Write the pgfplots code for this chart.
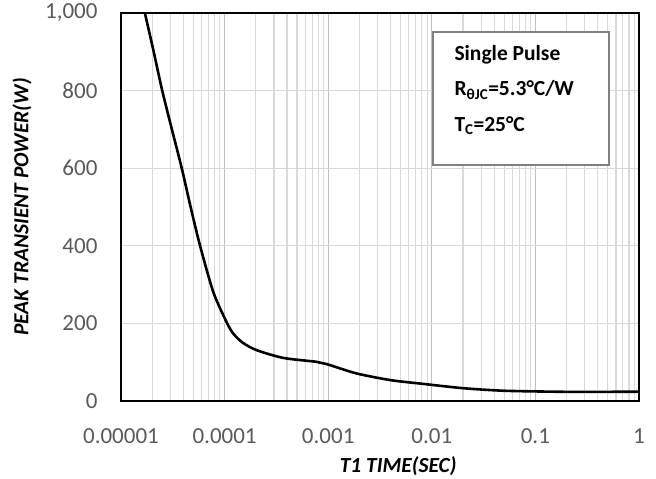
\documentclass[border=0pt]{standalone}
\usepackage{pgfplots}
\pgfplotsset{compat=1.18}
\usepackage{fontspec}
\setmainfont{Carlito}
\definecolor{ticklab}{HTML}{595959}
\definecolor{gridmaj}{HTML}{BFBFBF}
\definecolor{gridmin}{HTML}{D9D9D9}
\begin{document}
\begin{tikzpicture}
\useasboundingbox (-121bp,-78bp) rectangle (535bp,401bp);
\begin{axis}[
  anchor=south west, at={(0,0)},
  scale only axis, width=518bp, height=388bp,
  xmode=log, xmin=1e-5, xmax=1, ymin=0, ymax=1000,
  log basis x=10,
  xtick={1e-5,1e-4,1e-3,1e-2,1e-1,1},
  minor xtick={2e-5,3e-5,4e-5,5e-5,6e-5,7e-5,8e-5,9e-5,
               2e-4,3e-4,4e-4,5e-4,6e-4,7e-4,8e-4,9e-4,
               2e-3,3e-3,4e-3,5e-3,6e-3,7e-3,8e-3,9e-3,
               2e-2,3e-2,4e-2,5e-2,6e-2,7e-2,8e-2,9e-2,
               2e-1,3e-1,4e-1,5e-1,6e-1,7e-1,8e-1,9e-1},
  xticklabels={0.00001,0.0001,0.001,0.01,0.1,1},
  ytick={0,200,400,600,800,1000},
  /pgf/number format/1000 sep={,},
  /pgf/number format/assume math mode=true,
  major tick length=0pt, minor tick length=0pt,
  xmajorgrids, xminorgrids, ymajorgrids,
  major grid style={gridmaj, line width=1.3bp},
  minor grid style={gridmin, line width=1.1bp},
  y grid style={gridmin},
  axis line style={black, line width=1.6bp},
  ticklabel style={font=\fontsize{23bp}{26bp}\selectfont, text=ticklab},
  xticklabel style={yshift=-24bp},
  yticklabel style={xshift=-20bp},
  xlabel={\textbf{\textit{T1 TIME(SEC)}}},
  ylabel={\textbf{\textit{PEAK TRANSIENT POWER(W)}}},
  label style={font=\fontsize{21.5bp}{24bp}\selectfont},
  xlabel style={at={(axis description cs:0.535,-0.167)}, anchor=center},
  ylabel style={at={(axis description cs:-0.191,0.5)}, anchor=center},
  clip=true,
]
\addplot[black, line width=2.6bp, smooth, tension=0.45] coordinates {
(1.7e-5,1000) (2.05e-5,905) (2.5e-5,800) (3.1e-5,700) (3.86e-5,600)
(4.7e-5,500) (5.8e-5,400) (7.8e-5,280) (1.06e-4,200) (1.22e-4,173)
(1.5e-4,150) (2.04e-4,131) (3.69e-4,111) (7.7e-4,101) (9.7e-4,95)
(1.88e-3,71) (3.95e-3,54) (7.7e-3,45) (0.0201,33) (0.049,26.5)
(0.149,24) (0.3,23.5) (1,24)
};
\end{axis}
\draw[fill=white, draw=gray, line width=1.1bp] (312bp,236bp) rectangle (488bp,369bp);
\node[anchor=west, font=\fontsize{21.5bp}{24bp}\selectfont\bfseries] at (330bp,346bp) {Single Pulse};
\node[anchor=west, font=\fontsize{21.5bp}{24bp}\selectfont\bfseries] at (330bp,311bp) {R\textsubscript{θJC}=5.3°C/W};
\node[anchor=west, font=\fontsize{21.5bp}{24bp}\selectfont\bfseries] at (330bp,275bp) {T\textsubscript{C}=25°C};
\end{tikzpicture}
\end{document}
